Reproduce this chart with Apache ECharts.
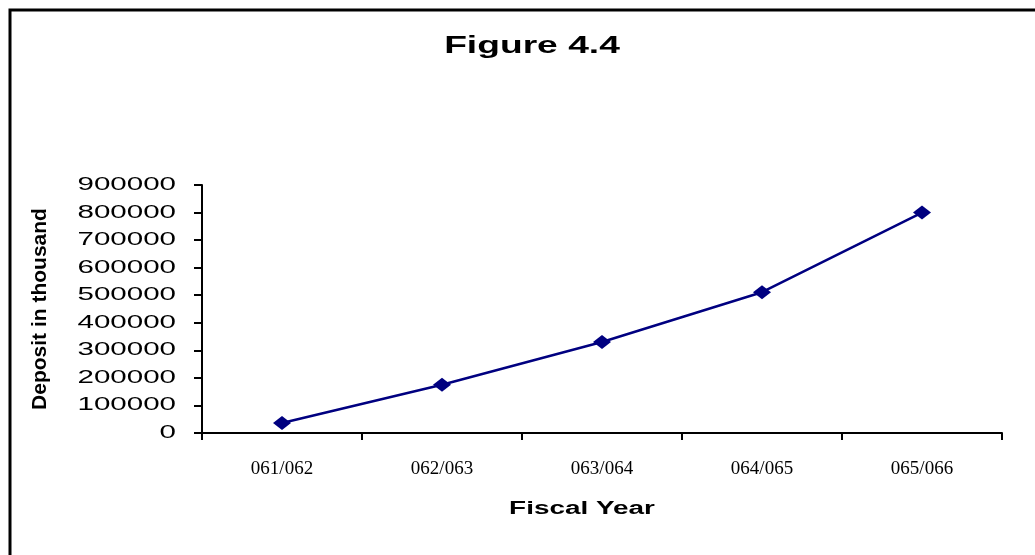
<!DOCTYPE html>
<html>
<head>
<meta charset="utf-8">
<script src="https://cdn.jsdelivr.net/npm/echarts@6/dist/echarts.min.js"></script>
<style>
  html, body { margin: 0; padding: 0; background: #ffffff; }
  #chart { width: 1035px; height: 555px; }
</style>
</head>
<body>
<div id="chart"></div>
<script>
// Deposits by fiscal year (in thousand)
const fiscalYears = ['061/062', '062/063', '063/064', '064/065', '065/066'];
const deposits = [36000, 175000, 330000, 511000, 800000];

// Value-axis ticks and their printed labels
const depositTicks = [0, 100000, 200000, 300000, 400000, 500000, 600000, 700000, 800000, 900000];
const depositTickLabels = ['0', '100000', '200000', '300000', '400000', '500000', '600000', '700000', '800000', '900000'];

const chartTitle = 'Figure 4.4';
const xTitle = 'Fiscal Year';
const yTitle = 'Deposit in thousand';

const SANS = '"Liberation Sans", Arial, Helvetica, sans-serif';
const SERIF = '"Liberation Serif", "Times New Roman", serif';
const GRID = { left: 202, right: 33, top: 185, bottom: 122 };

const chart = echarts.init(document.getElementById('chart'), null, { renderer: 'canvas' });

chart.setOption({
  animation: false,
  backgroundColor: '#ffffff',
  grid: GRID,
  xAxis: {
    type: 'category',
    data: fiscalYears,
    boundaryGap: true,
    axisLine: { lineStyle: { color: '#000000', width: 2 } },
    axisTick: { show: true, length: 7, lineStyle: { color: '#000000', width: 2 } },
    axisLabel: { color: '#000000', fontFamily: SERIF, fontSize: 19, margin: 27 },
    splitLine: { show: false }
  },
  yAxis: {
    type: 'value',
    min: depositTicks[0],
    max: depositTicks[depositTicks.length - 1],
    interval: depositTicks[1] - depositTicks[0],
    name: yTitle,
    nameLocation: 'middle',
    nameRotate: 90,
    nameGap: 151,
    nameTextStyle: { fontFamily: SANS, fontWeight: 'bold', fontSize: 21, color: '#000000' },
    axisLine: { show: true, lineStyle: { color: '#000000', width: 2 } },
    axisTick: { show: true, length: 8, lineStyle: { color: '#000000', width: 2 } },
    axisLabel: { show: false },
    splitLine: { show: false }
  },
  series: [{
    type: 'line',
    data: deposits,
    symbol: 'diamond',
    symbolSize: [18, 14],
    itemStyle: { color: '#000080' },
    lineStyle: { color: '#000080', width: 2.5 }
  }]
});

// Wide-set texts: tick labels placed through the value axis, plus titles
function wideText(id, text, x, y, font, scaleX, align) {
  return {
    type: 'text', id: id, x: x, y: y, scaleX: scaleX, silent: true,
    style: {
      text: text, font: font, fill: '#000000',
      align: align, verticalAlign: 'middle',
      textAlign: align, textVerticalAlign: 'middle'
    }
  };
}

const graphics = [
  {
    type: 'rect', id: 'frame', silent: true,
    shape: { x: 10, y: 10, width: 1100, height: 600 },
    style: { fill: 'none', stroke: '#000000', lineWidth: 3 }
  },
  wideText('title', chartTitle, 532, 46, 'bold 24px ' + SANS, 1.55, 'center'),
  wideText('xname', xTitle, 582, 509, 'bold 18px ' + SANS, 1.55, 'center')
];

depositTicks.forEach(function (v, i) {
  const py = chart.convertToPixel({ yAxisIndex: 0 }, v);
  graphics.push(wideText('ytick' + i, depositTickLabels[i], GRID.left - 26, py, '18px ' + SANS, 1.64, 'right'));
});

chart.setOption({ graphic: { elements: graphics } });
</script>
</body>
</html>
